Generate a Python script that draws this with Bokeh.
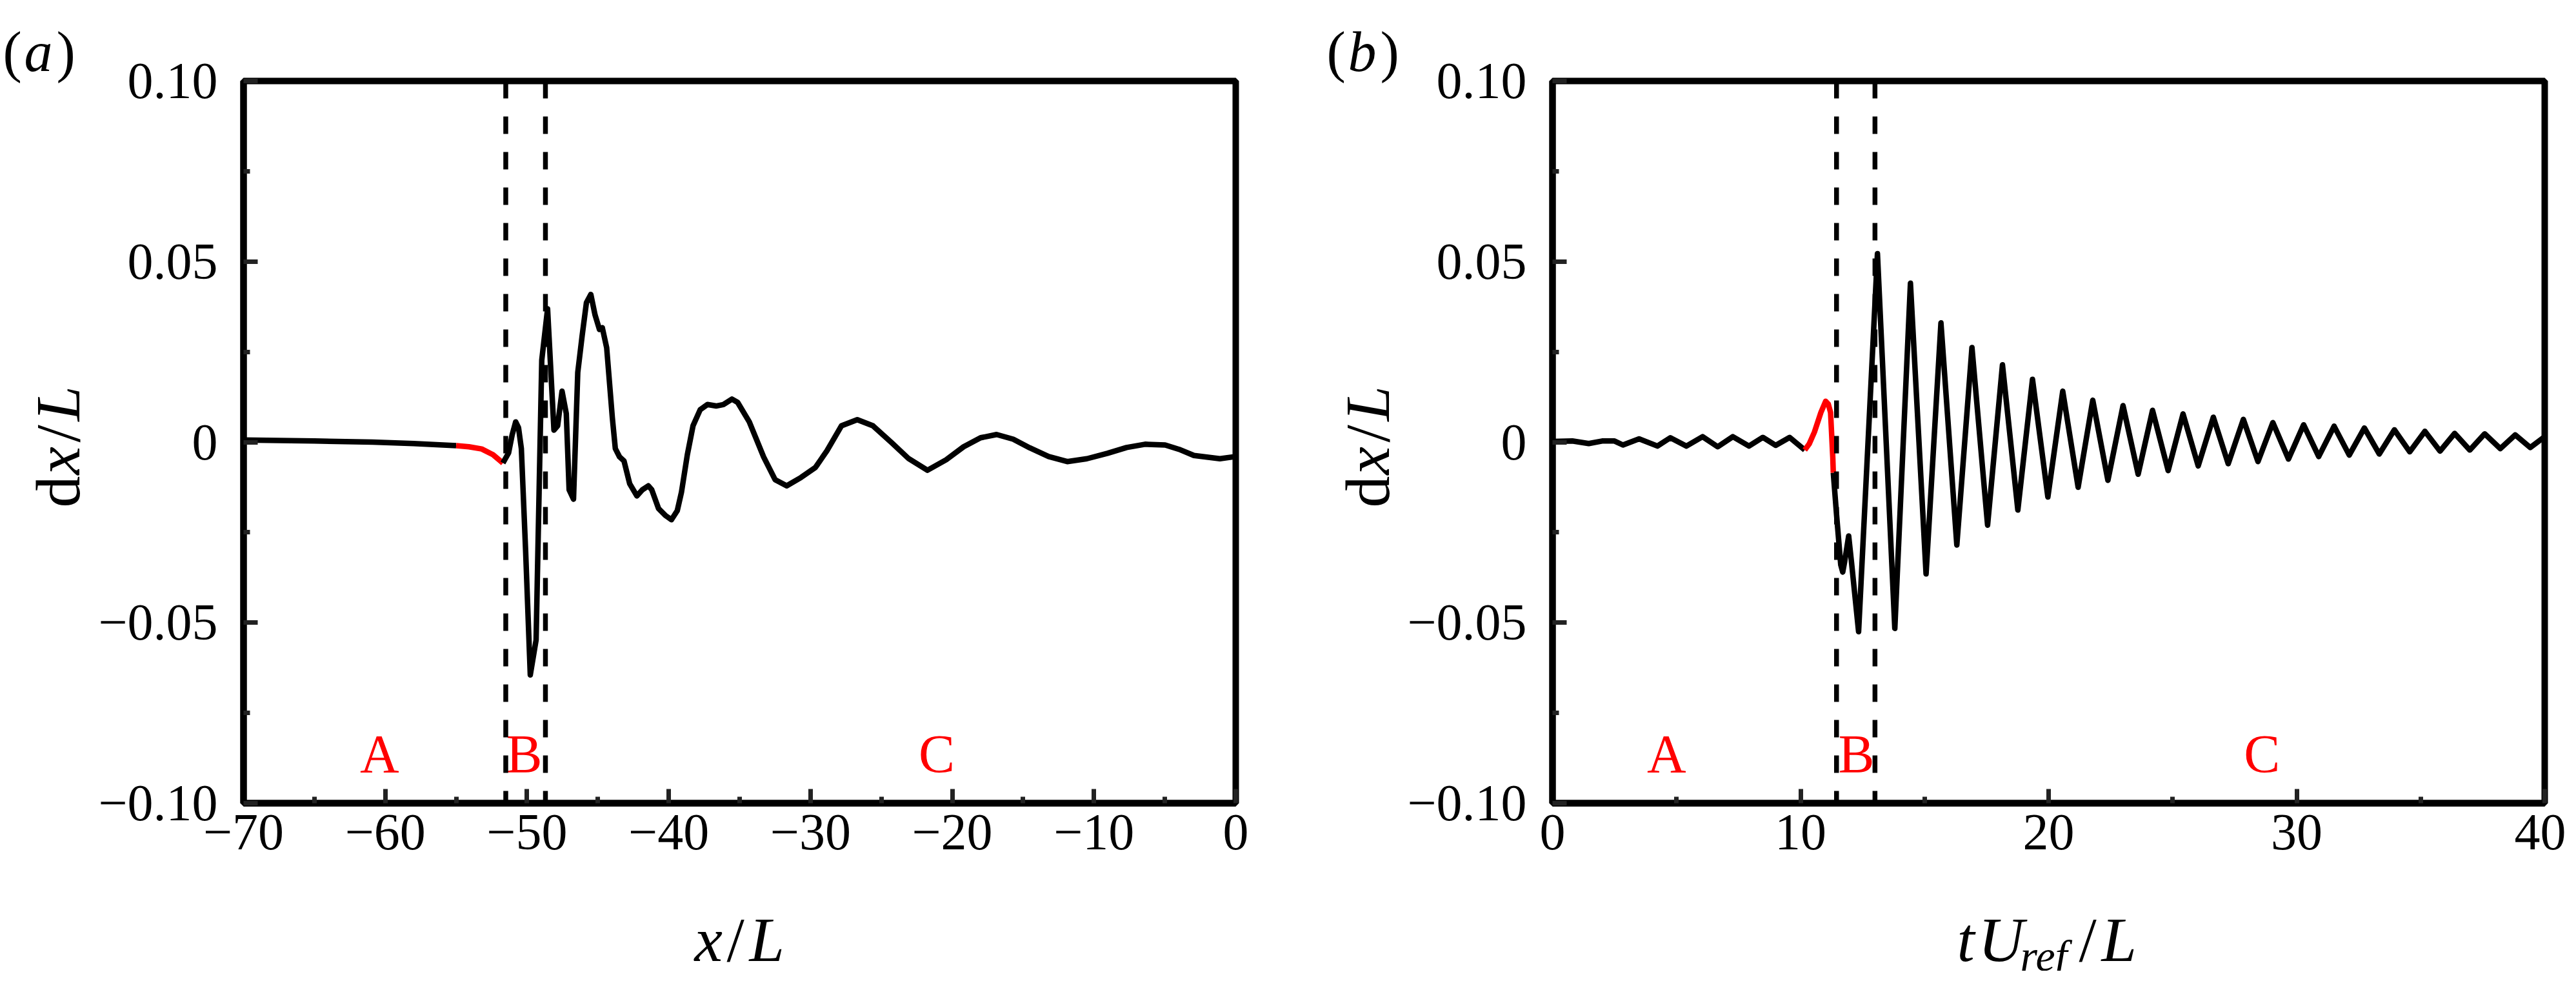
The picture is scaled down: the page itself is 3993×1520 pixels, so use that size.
import math
from bokeh.plotting import figure
from bokeh.models import Span, FixedTicker
from bokeh.layouts import row, column
from bokeh.core.properties import value
from bokeh.embed import file_html
from bokeh.resources import INLINE

FONT = "Liberation Serif"

# ---------------- data: panel (a)  dx/L versus x/L ----------------
a_black1_x = [-70.0, -65.0, -60.9, -58.0, -55.0]
a_black1_y = [0.0006, 0.0003, 0.0, -0.0004, -0.0010]

a_red_x = [-55.0, -54.1, -53.2, -52.4, -51.7]
a_red_y = [-0.0010, -0.0013, -0.0019, -0.0035, -0.0058]

a_black2_x = [-51.7, -51.3, -51.05, -50.8, -50.6, -50.4, -50.1, -49.77, -49.36, -48.96,
              -48.55, -48.1, -47.84, -47.53, -47.23, -47.03, -46.72, -46.42, -46.11, -45.81,
              -45.5, -45.2, -44.89, -44.69, -44.38, -43.98, -43.77, -43.47, -43.16, -42.76,
              -42.25, -41.86, -41.44, -41.2, -40.72, -40.21, -39.81, -39.4, -39.1, -38.69,
              -38.29, -37.78, -37.27, -36.66, -36.15, -35.54, -35.14, -34.32, -33.31, -32.5,
              -31.68, -30.67, -29.65, -28.84, -27.82, -26.7, -25.59, -24.29, -23.07, -21.75,
              -20.43, -19.2, -18.0, -16.87, -15.7, -14.53, -13.2, -11.89, -10.5, -9.05,
              -7.7, -6.4, -4.98, -4.0, -2.95, -1.12, 0.0]
a_black2_y = [-0.0058, -0.0030, 0.0020, 0.0056, 0.0040, -0.0018, -0.0300, -0.0645, -0.0548, 0.0227,
              0.0369, 0.0033, 0.0045, 0.0141, 0.0079, -0.0132, -0.0158, 0.0193, 0.0295, 0.0386,
              0.0409, 0.0352, 0.0312, 0.0317, 0.0261, 0.0067, -0.0018, -0.0041, -0.0052, -0.0115,
              -0.0149, -0.0132, -0.0121, -0.0132, -0.0184, -0.0204, -0.0215, -0.0190, -0.0138, -0.0035,
              0.0045, 0.0090, 0.0104, 0.0100, 0.0104, 0.0119, 0.0110, 0.0056, -0.0041, -0.0104,
              -0.0121, -0.0098, -0.0070, -0.0024, 0.0045, 0.0062, 0.0045, -0.0001, -0.0046, -0.0078,
              -0.0049, -0.0013, 0.0012, 0.0021, 0.0008, -0.0016, -0.0040, -0.0054, -0.0046, -0.0031,
              -0.0015, -0.0006, -0.0008, -0.0020, -0.0037, -0.0046, -0.0040]

a_dashes = [-51.5, -48.7]
a_region_x = [-60.4, -50.2, -21.1]
a_region_y = [-0.0864, -0.0864, -0.0864]
a_region_txt = ["A", "B", "C"]

a_xticks = [-70, -60, -50, -40, -30, -20, -10, 0]
a_xminor = [-65, -55, -45, -35, -25, -15, -5]
a_xlabels = ["\u221270", "\u221260", "\u221250", "\u221240", "\u221230", "\u221220", "\u221210", "0"]

# ---------------- data: panel (b)  dx/L versus tU_ref/L ----------------
b_black1_x = [0.0, 0.8, 1.46, 2.0, 2.5, 2.84, 3.49, 4.23, 4.75, 5.40, 6.05, 6.66, 7.27,
              7.92, 8.48, 9.0, 9.56, 10.17]
b_black1_y = [0.0002, 0.0003, -0.0004, 0.0003, 0.0003, -0.0008, 0.0009, -0.0011, 0.0012,
              -0.0011, 0.0015, -0.0013, 0.0015, -0.0011, 0.0013, -0.0009, 0.0013, -0.0022]

b_red_x = [10.17, 10.35, 10.56, 10.82, 11.01, 11.12, 11.21, 11.3, 11.32]
b_red_y = [-0.0022, -0.0005, 0.0028, 0.0082, 0.0113, 0.0105, 0.0082, -0.0043, -0.0085]

b_black2_x = [11.32, 11.45, 11.62, 11.70, 11.78, 11.94, 12.05, 12.34, 13.10, 13.80,
              14.43, 15.06, 15.66, 16.30, 16.91, 17.54, 18.14, 18.76, 19.35, 19.97,
              20.57, 21.19, 21.78, 22.39, 23.0, 23.61, 24.19, 24.82, 25.42, 26.03,
              26.64, 27.24, 27.85, 28.44, 29.04, 29.67, 30.28, 30.89, 31.51, 32.12,
              32.73, 33.33, 33.94, 34.56, 35.17, 35.78, 36.37, 36.98, 37.58, 38.21,
              38.81, 39.42, 40.0]
b_black2_y = [-0.0085, -0.0200, -0.0340, -0.0360, -0.0330, -0.0260, -0.0330, -0.0525, 0.0522, -0.0516,
              0.0440, -0.0365, 0.0330, -0.0285, 0.0262, -0.0230, 0.0214, -0.0188, 0.0174, -0.0152,
              0.0141, -0.0125, 0.0116, -0.0106, 0.0101, -0.0089, 0.0088, -0.0079, 0.0078, -0.0066,
              0.0069, -0.0060, 0.0063, -0.0054, 0.0054, -0.0047, 0.0048, -0.0040, 0.0044, -0.0036,
              0.0039, -0.0033, 0.0034, -0.0027, 0.0030, -0.0025, 0.0024, -0.0022, 0.0023, -0.0018,
              0.0020, -0.0015, 0.0015]

b_dashes = [11.45, 13.0]
b_region_x = [4.6, 12.25, 28.6]
b_region_y = [-0.0864, -0.0864, -0.0864]
b_region_txt = ["A", "B", "C"]

b_xticks = [0, 10, 20, 30, 40]
b_xminor = [5, 15, 25, 35]
b_xlabels = ["0", "10", "20", "30", "40"]

y_ticks = [-0.1, -0.05, 0.0, 0.05, 0.1]
y_minor = [-0.075, -0.025, 0.025, 0.075]
y_labels = ["\u22120.10", "\u22120.05", "0", "0.05", "0.10"]

FRAME_W = 1538
FRAME_H = 1119
TOP = 125
BOTTOM = 115
LABEL_H = 145


def make_panel(xr, min_left, min_right, xticks, xminor, xlabels):
    p = figure(x_range=xr, y_range=(-0.1, 0.1), frame_width=FRAME_W, frame_height=FRAME_H,
               min_border_left=min_left, min_border_right=min_right,
               min_border_top=TOP, min_border_bottom=BOTTOM,
               output_backend="svg", toolbar_location=None,
               background_fill_color="white", border_fill_color="white")
    p.grid.visible = False
    p.outline_line_color = "black"
    p.outline_line_width = 10
    p.xaxis.ticker = FixedTicker(ticks=xticks, minor_ticks=xminor)
    p.xaxis.major_label_overrides = {t: s for t, s in zip(xticks, xlabels)}
    p.yaxis.ticker = FixedTicker(ticks=y_ticks, minor_ticks=y_minor)
    p.yaxis.major_label_overrides = {t: s for t, s in zip(y_ticks, y_labels)}
    for ax in (p.xaxis, p.yaxis):
        ax.axis_line_width = 10
        ax.axis_line_color = "black"
        ax.major_tick_in = 22
        ax.major_tick_out = 0
        ax.minor_tick_in = 10
        ax.minor_tick_out = 0
        ax.major_tick_line_width = 7
        ax.minor_tick_line_width = 7
        ax.major_tick_line_color = "#222222"
        ax.minor_tick_line_color = "#222222"
        ax.major_label_text_font = FONT
        ax.major_label_text_font_size = "80px"
        ax.major_label_text_color = "black"
        ax.axis_label = None
    p.xaxis.major_label_standoff = 18
    p.yaxis.major_label_standoff = 40
    return p


def strip(w, h, left=0, right=0):
    s = figure(x_range=(0, w), y_range=(0, h), frame_width=w, frame_height=h,
               min_border_left=left, min_border_right=right,
               min_border_top=0, min_border_bottom=0,
               x_axis_type=None, y_axis_type=None,
               output_backend="svg", toolbar_location=None,
               background_fill_color="white", border_fill_color="white")
    s.outline_line_color = None
    return s


def runs(s, items, angle=0.0):
    for txt, x, y, style, size in items:
        s.text(x=[x], y=[y], text=[txt], text_font=value(FONT), text_font_style=style,
               text_font_size=size, text_color="black", text_align="left",
               text_baseline="alphabetic", angle=angle)


def ylabel_runs(s, bx):
    runs(s, [("d", bx, 718, "normal", "98px"),
             ("x", bx, 769, "italic", "98px"),
             ("/", bx, 819, "normal", "98px"),
             ("L", bx, 852, "italic", "98px")], angle=math.pi / 2)


def draw(p, bx1, by1, rx, ry, bx2, by2, dashes, rgx, rgy, rgt):
    p.line(bx1, by1, line_color="black", line_width=8.5, line_join="round")
    p.line(rx, ry, line_color="#ff0000", line_width=8.5, line_join="round")
    p.line(bx2, by2, line_color="black", line_width=8.5, line_join="round")
    for d in dashes:
        p.add_layout(Span(location=d, dimension="height", line_color="black",
                          line_width=7.5, line_dash="27 28"))
    p.text(x=rgx, y=rgy, text=rgt, text_color="#ff0000",
           text_font=value(FONT), text_font_size="84px", text_align="center",
           text_baseline="alphabetic")


# ---------------- panel (a) ----------------
pa = make_panel((-70, 0), 235, 65, a_xticks, a_xminor, a_xlabels)
draw(pa, a_black1_x, a_black1_y, a_red_x, a_red_y, a_black2_x, a_black2_y,
     a_dashes, a_region_x, a_region_y, a_region_txt)

la = strip(142, 1504)
ylabel_runs(la, 89)
runs(la, [("(", 4, 1424, "normal", "88px"),
          ("a", 37, 1424, "italic", "88px"),
          (")", 87, 1424, "normal", "88px")])

ba = strip(FRAME_W, LABEL_H, left=235, right=65)
runs(ba, [("x", 699, 49, "italic", "98px"),
          ("/", 749, 49, "normal", "98px"),
          ("L", 784, 49, "italic", "98px")])

# ---------------- panel (b) ----------------
pb = make_panel((0, 40), 234, 33, b_xticks, b_xminor, b_xlabels)
draw(pb, b_black1_x, b_black1_y, b_red_x, b_red_y, b_black2_x, b_black2_y,
     b_dashes, b_region_x, b_region_y, b_region_txt)

lb = strip(192, 1504)
ylabel_runs(lb, 139)
runs(lb, [("(", 76, 1424, "normal", "88px"),
          ("b", 109, 1424, "italic", "88px"),
          (")", 159, 1424, "normal", "88px")])

bb = strip(FRAME_W, LABEL_H, left=234, right=33)
runs(bb, [("t", 627, 49, "italic", "98px"),
          ("U", 660, 49, "italic", "98px"),
          ("ref", 725, 24, "italic", "68px"),
          ("/", 816, 49, "normal", "98px"),
          ("L", 851, 49, "italic", "98px")])

layout = row(row(la, column(pa, ba)), row(lb, column(pb, bb)))
open("out.html", "w").write(file_html(layout, INLINE))
